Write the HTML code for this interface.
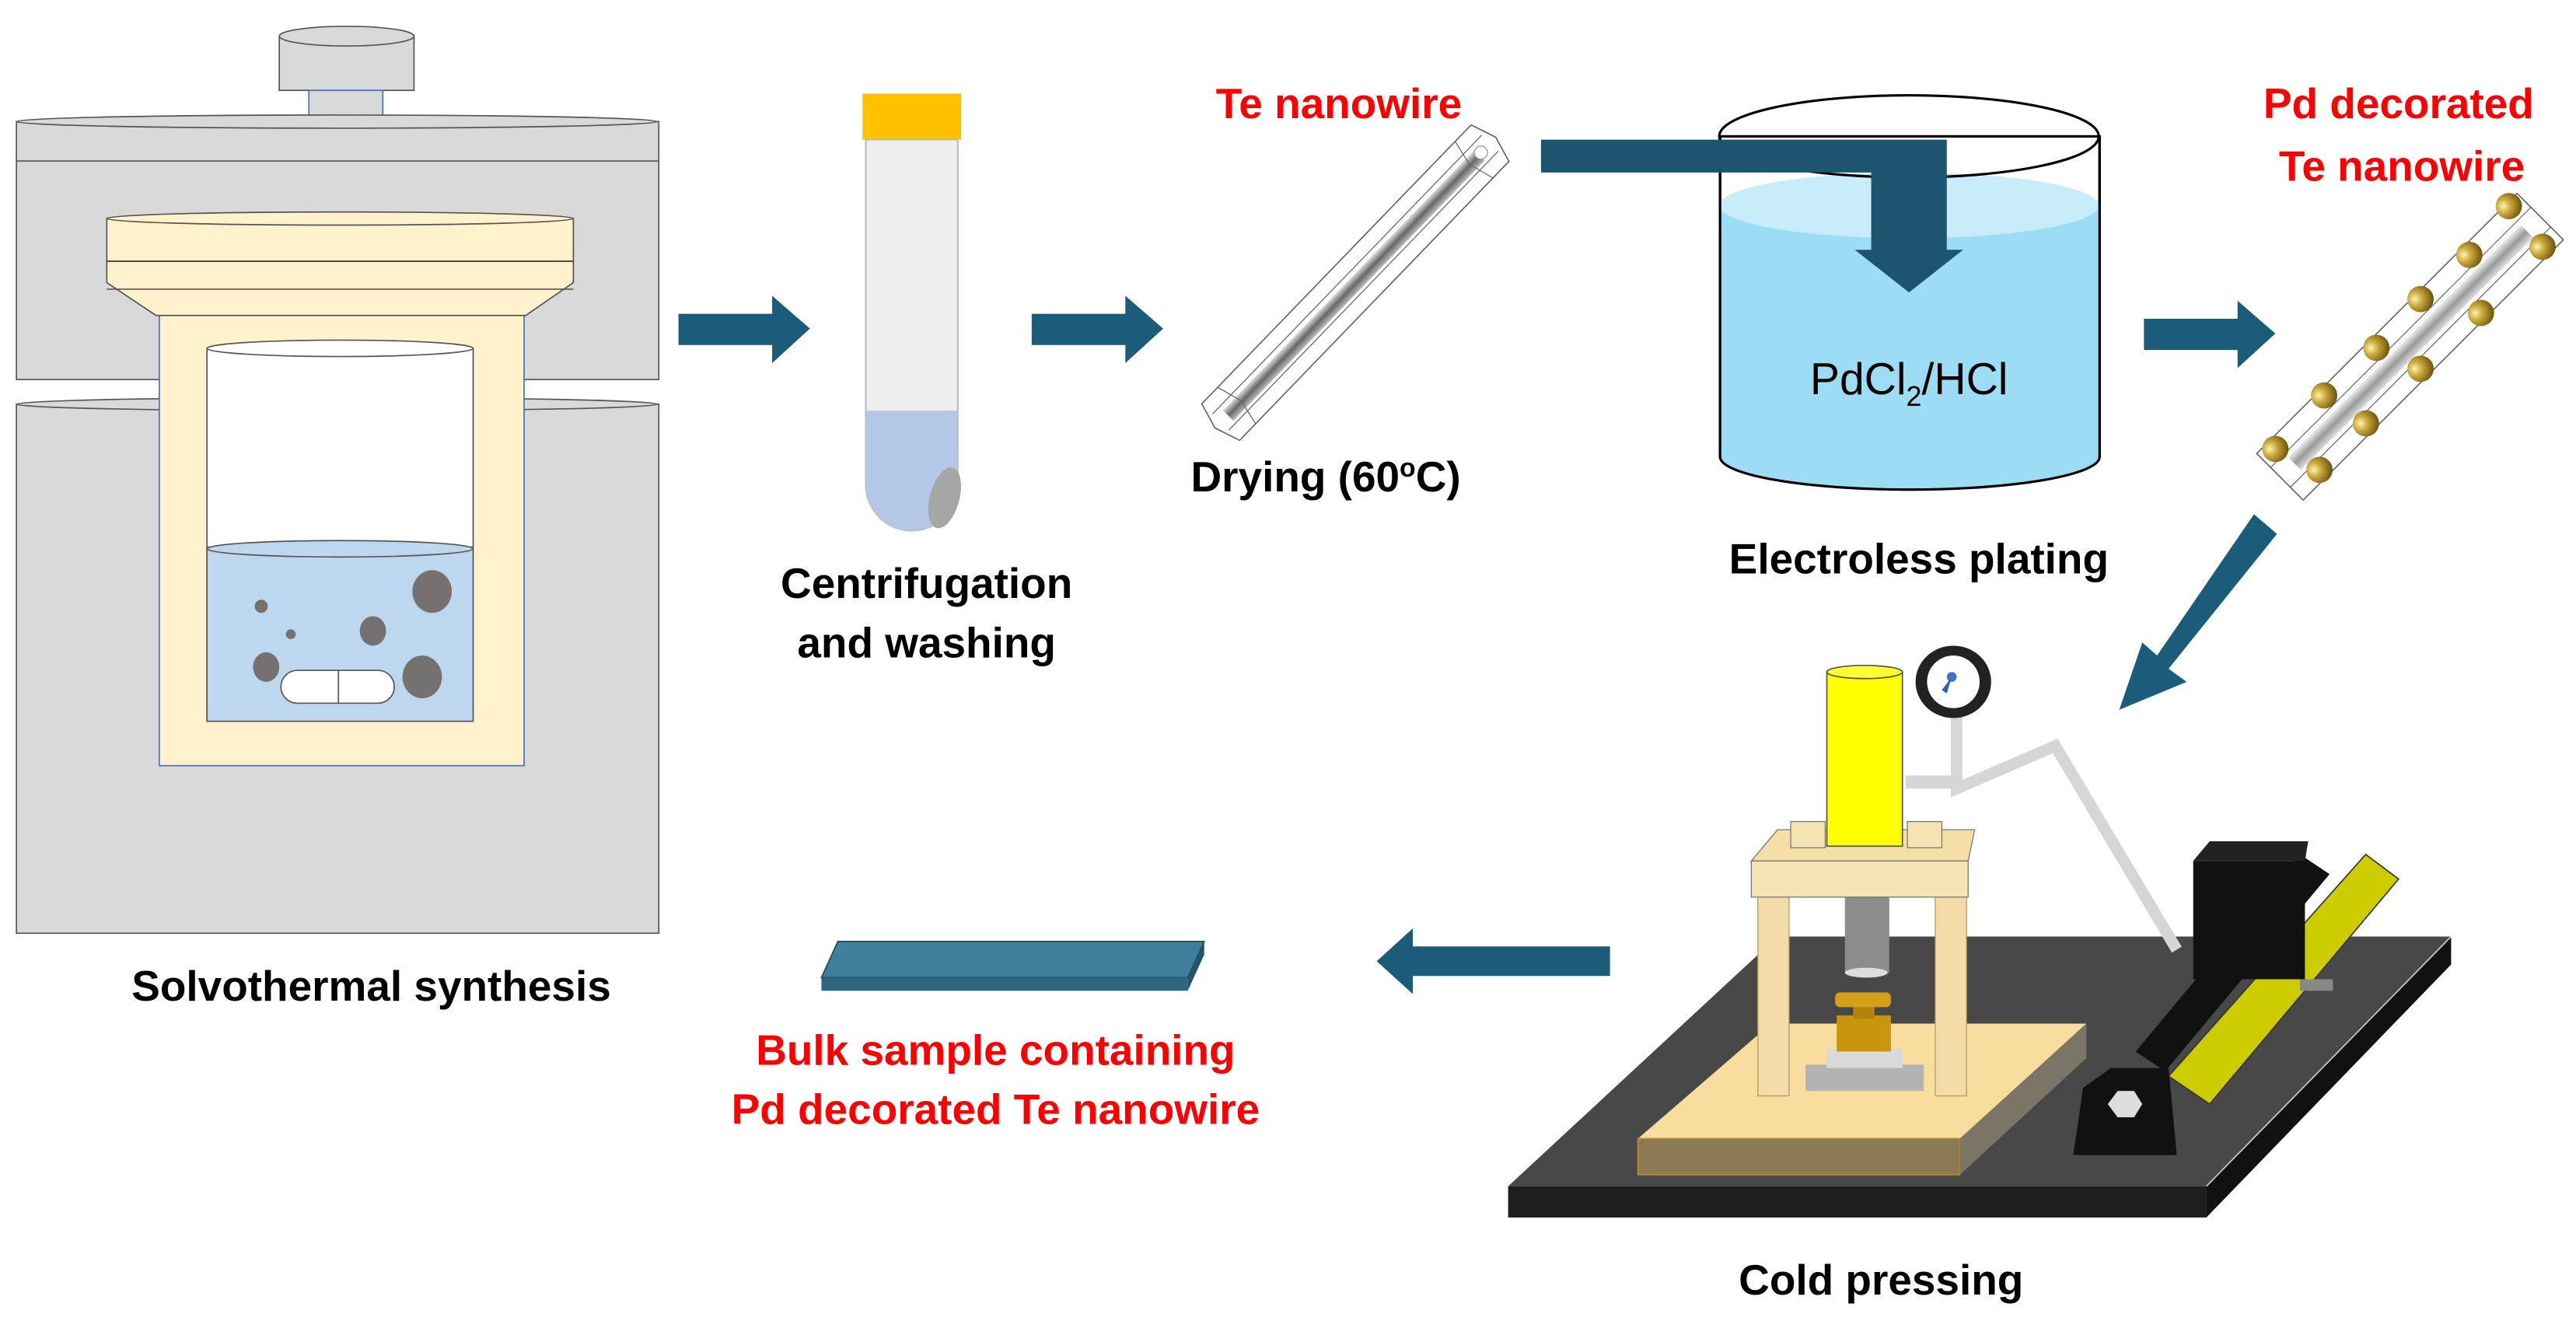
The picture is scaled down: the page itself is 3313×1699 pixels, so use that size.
<!DOCTYPE html>
<html><head><meta charset="utf-8"><style>html,body{margin:0;padding:0;background:#fff}svg{display:block}</style></head>
<body>
<svg width="3313" height="1699" viewBox="0 0 1568 804" preserveAspectRatio="none" xmlns="http://www.w3.org/2000/svg" font-family="Liberation Sans, Arial, sans-serif">
<defs>
<radialGradient id="gold" cx="0.35" cy="0.35" r="0.7"><stop offset="0" stop-color="#fff3b0"/><stop offset="0.4" stop-color="#c9a83a"/><stop offset="1" stop-color="#6b5410"/></radialGradient>
<linearGradient id="rod" x1="0" y1="0" x2="0" y2="1"><stop offset="0" stop-color="#ddd"/><stop offset="0.5" stop-color="#666"/><stop offset="1" stop-color="#bbb"/></linearGradient>
<linearGradient id="rod2" x1="0" y1="0" x2="0" y2="1"><stop offset="0" stop-color="#eee"/><stop offset="0.5" stop-color="#999"/><stop offset="1" stop-color="#ddd"/></linearGradient>
</defs>
<g stroke="#555" stroke-width="0.8">
<!-- autoclave -->
<rect x="170" y="22" width="82" height="33" fill="#d9d9d9"/>
<ellipse cx="211" cy="22" rx="41" ry="6" fill="#d9d9d9"/>
<rect x="188" y="55" width="45" height="20" fill="#d9d9d9" stroke="#4472c4"/>
<rect x="10" y="74" width="391" height="157" fill="#d9d9d9"/>
<ellipse cx="205" cy="74" rx="195" ry="4" fill="#d9d9d9"/>
<line x1="10" y1="98" x2="401" y2="98"/>
<rect x="10" y="246" width="391" height="322" fill="#d9d9d9"/>
<ellipse cx="205" cy="246" rx="195" ry="4" fill="#d9d9d9"/>
<rect x="97" y="190" width="222" height="276" fill="#fff2cc" stroke="#4472c4"/>
<path d="M65 133 L349 133 L349 172 L320 192 L95 192 L65 172 Z" fill="#fff2cc"/>
<ellipse cx="207" cy="133" rx="142" ry="4" fill="#fff2cc"/>
<line x1="65" y1="159" x2="349" y2="159" stroke="#333"/>
<line x1="65" y1="176" x2="349" y2="176"/>
<rect x="126" y="212" width="162" height="226" fill="#fff"/>
<ellipse cx="207" cy="212" rx="81" ry="5" fill="#fff"/>
<rect x="126" y="333" width="162" height="106" fill="#bdd7ee"/>
<ellipse cx="207" cy="334" rx="81" ry="5" fill="#bdd7ee"/>
</g>
<g fill="#767171">
<ellipse cx="263" cy="360" rx="12" ry="13"/><ellipse cx="227" cy="384" rx="8" ry="9"/><ellipse cx="162" cy="406" rx="8" ry="9"/><circle cx="159" cy="369" r="4"/><circle cx="177" cy="386" r="3"/><ellipse cx="257" cy="412" rx="12" ry="13"/>
</g>
<rect x="171" y="408" width="69" height="20" rx="10" fill="#fff" stroke="#555" stroke-width="0.8"/>
<line x1="206" y1="408" x2="206" y2="428" stroke="#555" stroke-width="0.8"/>
<text x="226" y="609" font-size="26" font-weight="bold" text-anchor="middle">Solvothermal synthesis</text>

<!-- arrows -->
<g fill="#1a5c7a">
<path d="M413 191 L470 191 L470 180 L493 200 L470 221 L470 210 L413 210 Z"/>
<path d="M628 191 L685 191 L685 180 L708 200 L685 221 L685 210 L628 210 Z"/>
<path d="M1305 194 L1362 194 L1362 183 L1385 203 L1362 224 L1362 213 L1305 213 Z"/>
<path d="M980 576 L860 576 L860 565 L838 585 L860 605 L860 594 L980 594 Z"/>
<path d="M1372 313 L1386 325 L1320 407 L1331 415 L1290 432 L1304 391 L1313 399 Z"/>
</g>

<!-- tube -->
<rect x="525" y="57" width="60" height="28" fill="#ffc000"/>
<path d="M527 85 L583 85 L583 295 A28 28 0 0 1 527 295 Z" fill="#eeeeee" stroke="#bbb"/>
<path d="M527 250 L583 250 L583 295 A28 28 0 0 1 527 295 Z" fill="#b4c7e7"/>
<ellipse cx="575" cy="303" rx="9" ry="19" fill="#a6a6a6" transform="rotate(15 575 303)"/>
<text x="564" y="364" font-size="26" font-weight="bold" text-anchor="middle">Centrifugation</text>
<text x="564" y="400" font-size="26" font-weight="bold" text-anchor="middle">and washing</text>

<!-- Te nanowire -->
<g transform="translate(825,172) rotate(-46)">
<polygon points="-118,-16 118,-16 123,0 118,16 -118,16 -123,0" fill="#fff" stroke="#666" stroke-width="0.8"/>
<line x1="-118" y1="-7" x2="118" y2="-7" stroke="#666" stroke-width="0.6"/>
<line x1="-118" y1="7" x2="118" y2="7" stroke="#666" stroke-width="0.6"/>
<rect x="-112" y="-4" width="220" height="9" fill="url(#rod)"/>
<polyline points="-104,-16 -100,0 -104,16" fill="none" stroke="#666" stroke-width="0.6"/>
<polyline points="104,-16 100,0 104,16" fill="none" stroke="#666" stroke-width="0.6"/>
<circle cx="110" cy="0" r="4" fill="#fff" stroke="#999" stroke-width="0.6"/>
</g>
<text x="815" y="72" font-size="26" font-weight="bold" fill="#ff0000" text-anchor="middle">Te nanowire</text>
<text x="807" y="299" font-size="26" font-weight="bold" text-anchor="middle">Drying (60<tspan font-size="16" dy="-9">o</tspan><tspan dy="9">C)</tspan></text>

<!-- beaker -->
<rect x="1047" y="83" width="231" height="195" fill="#fff" stroke="#000" stroke-width="1.5"/>
<path d="M1047 125 L1278 125 L1278 278 A115.5 20 0 0 1 1047 278 Z" fill="#9ddcf5"/>
<path d="M1047 278 A115.5 20 0 0 0 1278 278" fill="none" stroke="#000" stroke-width="1.5"/>
<ellipse cx="1162" cy="125" rx="115.5" ry="20" fill="#c8ecfa"/>
<line x1="1047" y1="83" x2="1047" y2="278" stroke="#000" stroke-width="1.5"/>
<line x1="1278" y1="83" x2="1278" y2="278" stroke="#000" stroke-width="1.5"/>
<ellipse cx="1162" cy="83" rx="115.5" ry="25" fill="none" stroke="#000" stroke-width="1.5"/>
<path d="M938 85 L1185 85 L1185 152 L1195 152 L1162 178 L1129 152 L1139 152 L1139 105 L938 105 Z" fill="#1d5470"/>
<text x="1162" y="240" font-size="27" text-anchor="middle">PdCl<tspan font-size="17" dy="7">2</tspan><tspan dy="-7">/HCl</tspan></text>
<text x="1168" y="349" font-size="26" font-weight="bold" text-anchor="middle">Electroless plating</text>

<!-- Pd decorated -->
<text x="1460" y="72" font-size="26" font-weight="bold" fill="#ff0000" text-anchor="middle">Pd decorated</text>
<text x="1462" y="110" font-size="26" font-weight="bold" fill="#ff0000" text-anchor="middle">Te nanowire</text>
<g transform="translate(1467,211) rotate(-45)">
<rect x="-112" y="-20" width="224" height="40" fill="#fff" stroke="#555" stroke-width="0.7"/>
<line x1="-112" y1="-8" x2="112" y2="-8" stroke="#555" stroke-width="0.5"/>
<line x1="-112" y1="9" x2="112" y2="9" stroke="#555" stroke-width="0.5"/>
<rect x="-100" y="-5" width="200" height="11" fill="url(#rod2)"/>
<g fill="url(#gold)">
<circle cx="-102" cy="-14" r="8"/><circle cx="-92" cy="14" r="8"/><circle cx="-58" cy="-16" r="8"/><circle cx="-52" cy="14" r="8"/><circle cx="-15" cy="-14" r="8"/><circle cx="-5" cy="14" r="8"/><circle cx="25" cy="-16" r="8"/><circle cx="45" cy="16" r="8"/><circle cx="65" cy="-14" r="8"/><circle cx="100" cy="14" r="8"/><circle cx="103" cy="-18" r="8"/>
</g>
</g>

<!-- bulk sample -->
<path d="M500 595 L510 573 L733 573 L723 595 Z" fill="#3f7f9b" stroke="#1d4a5c" stroke-width="0.8"/>
<path d="M500 595 L723 595 L723 603 L500 603 Z" fill="#2e6680"/>
<path d="M723 595 L733 573 L733 581 L723 603 Z" fill="#245468"/>
<text x="606" y="648" font-size="26" font-weight="bold" fill="#ff0000" text-anchor="middle">Bulk sample containing</text>
<text x="606" y="684" font-size="26" font-weight="bold" fill="#ff0000" text-anchor="middle">Pd decorated Te nanowire</text>

<!-- cold press -->
<path d="M918 722 L1082 570 L1492 570 L1343 722 Z" fill="#484848"/>
<rect x="918" y="722" width="425" height="19" fill="#1e1e1e"/>
<path d="M1343 722 L1492 570 L1492 587 L1343 741 Z" fill="#111"/>
<path d="M1343 722 L1492 570" stroke="#ccc" stroke-width="0.8"/>
<path d="M1191 430 L1191 480 L1251 454 L1325 578" fill="none" stroke="#d6d6d6" stroke-width="7"/>
<path d="M1191 476 L1160 476" stroke="#d6d6d6" stroke-width="8"/>
<path d="M997 693 L1078 623 L1270 623 L1193 693 Z" fill="#f8dd9f"/>
<rect x="997" y="693" width="196" height="22" fill="#8c7a55" stroke="#b58a2a" stroke-width="0.8"/>
<path d="M1193 693 L1270 623 L1270 644 L1193 715 Z" fill="#7a7566"/>
<ellipse cx="1135" cy="654" rx="36" ry="8" fill="#bfbfbf"/>
<rect x="1099" y="648" width="72" height="16" fill="#b3b3b3"/>
<rect x="1112" y="638" width="46" height="12" fill="#d9d9d9"/>
<rect x="1118" y="618" width="33" height="22" fill="#c8960c"/>
<rect x="1128" y="612" width="13" height="8" fill="#b38309"/>
<rect x="1117" y="604" width="34" height="9" rx="3" fill="#d4a017"/>
<rect x="1070" y="540" width="19" height="127" fill="#f3dca8" stroke="#b59b5e" stroke-width="0.6"/>
<rect x="1178" y="540" width="19" height="127" fill="#f3dca8" stroke="#b59b5e" stroke-width="0.6"/>
<rect x="1123" y="546" width="27" height="46" fill="#8c8c8c"/>
<ellipse cx="1136" cy="592" rx="13" ry="3" fill="#ddd"/>
<path d="M1066 524 L1082 505 L1202 505 L1198 524 Z" fill="#f5dfa6" stroke="#777" stroke-width="0.6"/>
<rect x="1066" y="524" width="132" height="22" fill="#f5e3b3" stroke="#777" stroke-width="0.6"/>
<rect x="1090" y="500" width="21" height="16" fill="#f5e3b3" stroke="#777" stroke-width="0.6"/>
<rect x="1161" y="500" width="21" height="16" fill="#f5e3b3" stroke="#777" stroke-width="0.6"/>
<rect x="1112" y="409" width="46" height="106" fill="#ffff00" stroke="#555" stroke-width="0.8"/>
<ellipse cx="1135" cy="409" rx="23" ry="4" fill="#ffff33" stroke="#555" stroke-width="0.8"/>
<ellipse cx="1189" cy="415" rx="23" ry="22" fill="#222"/>
<ellipse cx="1189" cy="415" rx="16" ry="16" fill="#fff"/>
<circle cx="1188" cy="412" r="3" fill="#4472c4"/>
<path d="M1182 420 L1188 412 L1185 422 Z" fill="#2e5fbf"/>
<path d="M1320 655 L1440 520 L1460 535 L1345 672 Z" fill="#cccc00" stroke="#333" stroke-width="0.8"/>
<path d="M1300 640 L1400 520 L1418 532 L1318 652 Z" fill="#111"/>
<rect x="1335" y="524" width="68" height="72" fill="#111"/>
<path d="M1335 524 L1345 512 L1405 512 L1403 524 Z" fill="#222"/>
<path d="M1400 596 L1420 596 L1420 603 L1400 603 Z" fill="#888"/>
<path d="M1262 703 L1268 662 L1285 650 L1320 650 L1325 703 Z" fill="#111"/>
<polygon points="1283,672 1289,664 1299,664 1304,672 1299,680 1289,680" fill="#ddd"/>
<text x="1145" y="788" font-size="26" font-weight="bold" text-anchor="middle">Cold pressing</text>
</svg>
</body></html>
